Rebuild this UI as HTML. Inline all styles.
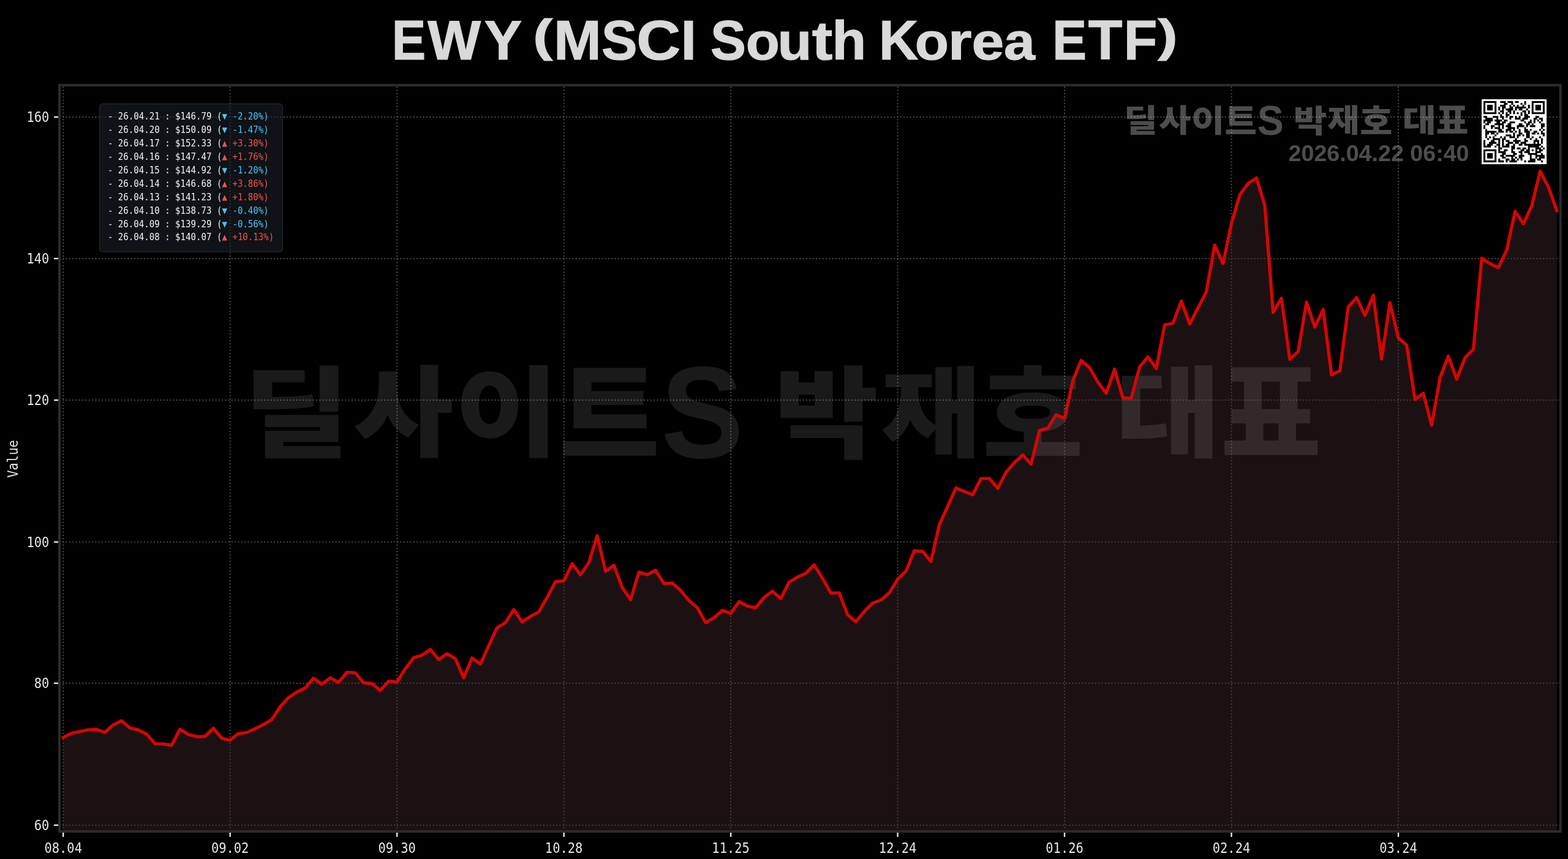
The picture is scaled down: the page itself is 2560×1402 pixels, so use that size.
<!DOCTYPE html>
<html lang="ko"><head><meta charset="utf-8"><title>EWY (MSCI South Korea ETF)</title>
<style>
html,body{margin:0;padding:0;background:#000}
body{width:2560px;height:1402px;overflow:hidden}
svg{display:block}
text{white-space:pre}
.mono{font-family:'DejaVu Sans Mono','Liberation Mono',monospace}
.sans{font-family:'Liberation Sans','Noto Sans CJK KR',sans-serif;font-weight:700}
.kr{font-family:'Liberation Sans','Noto Sans CJK KR',sans-serif;font-weight:900}
</style></head><body>
<svg width="2560" height="1402" viewBox="0 0 2560 1402" role="img" aria-label="EWY (MSCI South Korea ETF)">
<rect width="2560" height="1402" fill="#000"/>
<g stroke="#4c4c4c" stroke-opacity="1" stroke-width="2.0" stroke-dasharray="2 3.3" fill="none">
<line x1="103.2" y1="1357.0" x2="103.2" y2="139.0"/>
<line x1="375.67" y1="1357.0" x2="375.67" y2="139.0"/>
<line x1="648.15" y1="1357.0" x2="648.15" y2="139.0"/>
<line x1="920.62" y1="1357.0" x2="920.62" y2="139.0"/>
<line x1="1193.1" y1="1357.0" x2="1193.1" y2="139.0"/>
<line x1="1465.58" y1="1357.0" x2="1465.58" y2="139.0"/>
<line x1="1738.05" y1="1357.0" x2="1738.05" y2="139.0"/>
<line x1="2010.52" y1="1357.0" x2="2010.52" y2="139.0"/>
<line x1="2283.0" y1="1357.0" x2="2283.0" y2="139.0"/>
<line x1="97.05" y1="191" x2="2547.7" y2="191"/>
<line x1="97.05" y1="422" x2="2547.7" y2="422"/>
<line x1="97.05" y1="653.1" x2="2547.7" y2="653.1"/>
<line x1="97.05" y1="884.6" x2="2547.7" y2="884.6"/>
<line x1="97.05" y1="1115.1" x2="2547.7" y2="1115.1"/>
<line x1="97.05" y1="1346.75" x2="2547.7" y2="1346.75"/>
</g>
<polygon fill="#462b2d" fill-opacity="0.4" points="103.1,1357.0 103.1,1203.5 116.72,1196.9 130.35,1194 143.97,1191 157.59,1190.6 171.22,1195.3 184.84,1183.1 198.47,1176.3 212.09,1188.1 225.71,1191.3 239.34,1198.1 252.96,1213.8 266.59,1214.4 280.21,1216.3 293.83,1190.3 307.46,1198.8 321.08,1202.3 334.7,1201.9 348.33,1188.5 361.95,1205 375.58,1208 389.2,1197.3 402.82,1195.5 416.45,1189.4 430.07,1182.5 443.69,1174.4 457.32,1153.8 470.94,1138.8 484.57,1129.4 498.19,1123.1 511.81,1106.9 525.44,1116.9 539.06,1106.3 552.68,1113.8 566.31,1097.3 579.93,1098.1 593.56,1114.4 607.18,1115.6 620.8,1127.1 634.43,1111.9 648.05,1113 661.67,1091.6 675.3,1073.5 688.92,1069.4 702.55,1060 716.17,1076.3 729.79,1066.9 743.42,1075 757.04,1106.3 770.66,1073.8 784.29,1083.8 797.91,1053.8 811.54,1024.4 825.16,1016.3 838.78,994.8 852.41,1015 866.03,1006.3 879.65,998.8 893.28,975 906.9,949.4 920.53,947.8 934.15,920 947.77,938.1 961.4,918.1 975.02,874.4 988.64,932.5 1002.27,922.5 1015.89,958.8 1029.52,978.8 1043.14,933.8 1056.76,938.1 1070.39,930.6 1084.01,952.3 1097.63,951.6 1111.26,963.8 1124.88,980 1138.51,991.9 1152.13,1016.3 1165.75,1008.1 1179.38,996.3 1193,1001.3 1206.62,981.9 1220.25,989.4 1233.87,991.9 1247.49,975 1261.12,965 1274.74,976.9 1288.37,950 1301.99,941.9 1315.61,935.6 1329.24,921.9 1342.86,943.8 1356.49,968.1 1370.11,967.5 1383.73,1003.1 1397.36,1015 1410.98,998.1 1424.6,984.4 1438.23,979.4 1451.85,967.5 1465.47,945.6 1479.1,932.2 1492.72,898.8 1506.35,900 1519.97,916.3 1533.59,856.3 1547.22,826.3 1560.84,796.3 1574.47,802.2 1588.09,807.5 1601.71,781 1615.34,781 1628.96,796.9 1642.58,770.6 1656.21,755 1669.83,742.5 1683.45,757.5 1697.08,702.5 1710.7,698.8 1724.33,676.9 1737.95,683.1 1751.57,621.3 1765.2,588.1 1778.82,600 1792.45,623.8 1806.07,641.9 1819.69,602.5 1833.32,649.4 1846.94,650 1860.56,598.8 1874.19,582.5 1887.81,601.3 1901.43,530.3 1915.06,527.5 1928.68,491.3 1942.31,528.8 1955.93,502.5 1969.55,476.3 1983.18,400 1996.8,430 2010.43,365.3 2024.05,318.1 2037.67,299.4 2051.3,290.6 2064.92,335 2078.54,510 2092.17,486.9 2105.79,586.3 2119.41,573.8 2133.04,493.1 2146.66,533.8 2160.29,505 2173.91,611.9 2187.53,605 2201.16,501.3 2214.78,485.6 2228.41,515 2242.03,481.9 2255.65,586 2269.28,493.8 2282.9,551.3 2296.52,563 2310.15,651.9 2323.77,641.9 2337.39,693.8 2351.02,616.3 2364.64,581.3 2378.27,618.8 2391.89,583.8 2405.51,570.2 2419.14,421.3 2432.76,430.3 2446.39,436.8 2460.01,407.9 2473.63,344.9 2487.26,365.2 2500.88,335.7 2514.5,279.5 2528.13,305.4 2541.75,343.6 2541.75,1357.0"/>
<g class="kr" fill="#fff" fill-opacity="0.1" font-size="100">
<text transform="matrix(1.8828 0 0 1.6129 397.75 733.08)">딜</text><text transform="matrix(1.7810 0 0 1.6085 576.52 732.32)">사</text><text transform="matrix(1.8492 0 0 1.6000 742.57 732.00)">이</text><text transform="matrix(1.7824 0 0 1.8341 913.26 743.82)">트</text><text transform="matrix(2.0201 0 0 2.1428 1079.24 747.16)">S</text><text transform="matrix(1.8512 0 0 1.6277 1263.92 734.34)">박</text><text transform="matrix(1.7816 0 0 1.6086 1437.67 732.72)">재</text><text transform="matrix(1.7953 0 0 1.7444 1603.82 741.59)">호</text><text transform="matrix(1.8724 0 0 1.6086 1820.98 732.72)">대</text><text transform="matrix(1.7894 0 0 1.8400 1992.74 743.36)">표</text>
</g>
<polyline fill="none" stroke="#d50505" stroke-width="5.2" stroke-linejoin="round" stroke-linecap="square" points="103.1,1203.5 116.72,1196.9 130.35,1194 143.97,1191 157.59,1190.6 171.22,1195.3 184.84,1183.1 198.47,1176.3 212.09,1188.1 225.71,1191.3 239.34,1198.1 252.96,1213.8 266.59,1214.4 280.21,1216.3 293.83,1190.3 307.46,1198.8 321.08,1202.3 334.7,1201.9 348.33,1188.5 361.95,1205 375.58,1208 389.2,1197.3 402.82,1195.5 416.45,1189.4 430.07,1182.5 443.69,1174.4 457.32,1153.8 470.94,1138.8 484.57,1129.4 498.19,1123.1 511.81,1106.9 525.44,1116.9 539.06,1106.3 552.68,1113.8 566.31,1097.3 579.93,1098.1 593.56,1114.4 607.18,1115.6 620.8,1127.1 634.43,1111.9 648.05,1113 661.67,1091.6 675.3,1073.5 688.92,1069.4 702.55,1060 716.17,1076.3 729.79,1066.9 743.42,1075 757.04,1106.3 770.66,1073.8 784.29,1083.8 797.91,1053.8 811.54,1024.4 825.16,1016.3 838.78,994.8 852.41,1015 866.03,1006.3 879.65,998.8 893.28,975 906.9,949.4 920.53,947.8 934.15,920 947.77,938.1 961.4,918.1 975.02,874.4 988.64,932.5 1002.27,922.5 1015.89,958.8 1029.52,978.8 1043.14,933.8 1056.76,938.1 1070.39,930.6 1084.01,952.3 1097.63,951.6 1111.26,963.8 1124.88,980 1138.51,991.9 1152.13,1016.3 1165.75,1008.1 1179.38,996.3 1193,1001.3 1206.62,981.9 1220.25,989.4 1233.87,991.9 1247.49,975 1261.12,965 1274.74,976.9 1288.37,950 1301.99,941.9 1315.61,935.6 1329.24,921.9 1342.86,943.8 1356.49,968.1 1370.11,967.5 1383.73,1003.1 1397.36,1015 1410.98,998.1 1424.6,984.4 1438.23,979.4 1451.85,967.5 1465.47,945.6 1479.1,932.2 1492.72,898.8 1506.35,900 1519.97,916.3 1533.59,856.3 1547.22,826.3 1560.84,796.3 1574.47,802.2 1588.09,807.5 1601.71,781 1615.34,781 1628.96,796.9 1642.58,770.6 1656.21,755 1669.83,742.5 1683.45,757.5 1697.08,702.5 1710.7,698.8 1724.33,676.9 1737.95,683.1 1751.57,621.3 1765.2,588.1 1778.82,600 1792.45,623.8 1806.07,641.9 1819.69,602.5 1833.32,649.4 1846.94,650 1860.56,598.8 1874.19,582.5 1887.81,601.3 1901.43,530.3 1915.06,527.5 1928.68,491.3 1942.31,528.8 1955.93,502.5 1969.55,476.3 1983.18,400 1996.8,430 2010.43,365.3 2024.05,318.1 2037.67,299.4 2051.3,290.6 2064.92,335 2078.54,510 2092.17,486.9 2105.79,586.3 2119.41,573.8 2133.04,493.1 2146.66,533.8 2160.29,505 2173.91,611.9 2187.53,605 2201.16,501.3 2214.78,485.6 2228.41,515 2242.03,481.9 2255.65,586 2269.28,493.8 2282.9,551.3 2296.52,563 2310.15,651.9 2323.77,641.9 2337.39,693.8 2351.02,616.3 2364.64,581.3 2378.27,618.8 2391.89,583.8 2405.51,570.2 2419.14,421.3 2432.76,430.3 2446.39,436.8 2460.01,407.9 2473.63,344.9 2487.26,365.2 2500.88,335.7 2514.5,279.5 2528.13,305.4 2541.75,343.6"/>
<g stroke="#e6e6e6" stroke-width="2.4">
<line x1="103.2" y1="1357.0" x2="103.2" y2="1366"/>
<line x1="375.67" y1="1357.0" x2="375.67" y2="1366"/>
<line x1="648.15" y1="1357.0" x2="648.15" y2="1366"/>
<line x1="920.62" y1="1357.0" x2="920.62" y2="1366"/>
<line x1="1193.1" y1="1357.0" x2="1193.1" y2="1366"/>
<line x1="1465.58" y1="1357.0" x2="1465.58" y2="1366"/>
<line x1="1738.05" y1="1357.0" x2="1738.05" y2="1366"/>
<line x1="2010.52" y1="1357.0" x2="2010.52" y2="1366"/>
<line x1="2283.0" y1="1357.0" x2="2283.0" y2="1366"/>
<line x1="88.05" y1="191" x2="97.05" y2="191"/>
<line x1="88.05" y1="422" x2="97.05" y2="422"/>
<line x1="88.05" y1="653.1" x2="97.05" y2="653.1"/>
<line x1="88.05" y1="884.6" x2="97.05" y2="884.6"/>
<line x1="88.05" y1="1115.1" x2="97.05" y2="1115.1"/>
<line x1="88.05" y1="1346.75" x2="97.05" y2="1346.75"/>
</g>
<rect x="97.05" y="139.0" width="2450.65" height="1218" fill="none" stroke="#2c2c2c" stroke-width="4.0"/>
<g class="mono" fill="#e6e6e6" font-size="23.4">
<text x="72.45" y="1392" textLength="61.5" lengthAdjust="spacingAndGlyphs">08.04</text>
<text x="344.92" y="1392" textLength="61.5" lengthAdjust="spacingAndGlyphs">09.02</text>
<text x="617.4" y="1392" textLength="61.5" lengthAdjust="spacingAndGlyphs">09.30</text>
<text x="889.87" y="1392" textLength="61.5" lengthAdjust="spacingAndGlyphs">10.28</text>
<text x="1162.35" y="1392" textLength="61.5" lengthAdjust="spacingAndGlyphs">11.25</text>
<text x="1434.83" y="1392" textLength="61.5" lengthAdjust="spacingAndGlyphs">12.24</text>
<text x="1707.3" y="1392" textLength="61.5" lengthAdjust="spacingAndGlyphs">01.26</text>
<text x="1979.77" y="1392" textLength="61.5" lengthAdjust="spacingAndGlyphs">02.24</text>
<text x="2252.25" y="1392" textLength="61.5" lengthAdjust="spacingAndGlyphs">03.24</text>
<text x="43.4" y="199" textLength="36.9" lengthAdjust="spacingAndGlyphs">160</text>
<text x="43.4" y="430" textLength="36.9" lengthAdjust="spacingAndGlyphs">140</text>
<text x="43.4" y="661.1" textLength="36.9" lengthAdjust="spacingAndGlyphs">120</text>
<text x="43.4" y="892.6" textLength="36.9" lengthAdjust="spacingAndGlyphs">100</text>
<text x="55.7" y="1123.1" textLength="24.6" lengthAdjust="spacingAndGlyphs">80</text>
<text x="55.7" y="1354.75" textLength="24.6" lengthAdjust="spacingAndGlyphs">60</text>
<text transform="translate(29 779.75) rotate(-90)" textLength="61.5" lengthAdjust="spacingAndGlyphs">Value</text>
</g>
<g fill="#fff" fill-opacity="0.3">
<g class="kr" font-size="100"><text transform="matrix(0.6020 0 0 0.5093 1834.78 215.21)">딜</text><text transform="matrix(0.5694 0 0 0.5080 1891.95 214.97)">사</text><text transform="matrix(0.5913 0 0 0.5053 1945.04 214.87)">이</text><text transform="matrix(0.5699 0 0 0.5792 1999.61 218.60)">트</text><text transform="matrix(0.6459 0 0 0.6767 2052.68 219.66)">S</text><text transform="matrix(0.5919 0 0 0.5140 2111.73 215.61)">박</text><text transform="matrix(0.5696 0 0 0.5080 2167.29 215.10)">재</text><text transform="matrix(0.5740 0 0 0.5509 2220.41 217.90)">호</text><text transform="matrix(0.5987 0 0 0.5080 2289.85 215.10)">대</text><text transform="matrix(0.5721 0 0 0.5811 2344.77 218.46)">표</text></g>
<text class="sans" font-size="36.3" x="2103.55" y="262.6" textLength="294.97" lengthAdjust="spacingAndGlyphs">2026.04.22 06:40</text>
</g>
<rect x="2419.0" y="162.0" width="106.0" height="106.0" fill="#fff"/>
<path fill="#000" d="M2422.00 165.00h21.19v3.03h-21.19zM2449.25 165.00h9.08v3.03h-9.08zM2461.35 165.00h9.08v3.03h-9.08zM2473.46 165.00h6.05v3.03h-6.05zM2488.60 165.00h3.03v3.03h-3.03zM2500.71 165.00h21.19v3.03h-21.19zM2422.00 168.03h3.03v3.03h-3.03zM2440.16 168.03h3.03v3.03h-3.03zM2455.30 168.03h6.05v3.03h-6.05zM2467.41 168.03h3.03v3.03h-3.03zM2482.55 168.03h3.03v3.03h-3.03zM2488.60 168.03h3.03v3.03h-3.03zM2500.71 168.03h3.03v3.03h-3.03zM2518.87 168.03h3.03v3.03h-3.03zM2422.00 171.05h3.03v3.03h-3.03zM2428.05 171.05h9.08v3.03h-9.08zM2440.16 171.05h3.03v3.03h-3.03zM2449.25 171.05h9.08v3.03h-9.08zM2464.38 171.05h3.03v3.03h-3.03zM2470.44 171.05h3.03v3.03h-3.03zM2476.49 171.05h3.03v3.03h-3.03zM2485.57 171.05h3.03v3.03h-3.03zM2494.65 171.05h3.03v3.03h-3.03zM2500.71 171.05h3.03v3.03h-3.03zM2506.76 171.05h9.08v3.03h-9.08zM2518.87 171.05h3.03v3.03h-3.03zM2422.00 174.08h3.03v3.03h-3.03zM2428.05 174.08h9.08v3.03h-9.08zM2440.16 174.08h3.03v3.03h-3.03zM2446.22 174.08h3.03v3.03h-3.03zM2452.27 174.08h6.05v3.03h-6.05zM2464.38 174.08h6.05v3.03h-6.05zM2473.46 174.08h18.16v3.03h-18.16zM2494.65 174.08h3.03v3.03h-3.03zM2500.71 174.08h3.03v3.03h-3.03zM2506.76 174.08h9.08v3.03h-9.08zM2518.87 174.08h3.03v3.03h-3.03zM2422.00 177.11h3.03v3.03h-3.03zM2428.05 177.11h9.08v3.03h-9.08zM2440.16 177.11h3.03v3.03h-3.03zM2446.22 177.11h3.03v3.03h-3.03zM2452.27 177.11h3.03v3.03h-3.03zM2458.33 177.11h12.11v3.03h-12.11zM2473.46 177.11h3.03v3.03h-3.03zM2479.52 177.11h6.05v3.03h-6.05zM2491.63 177.11h3.03v3.03h-3.03zM2500.71 177.11h3.03v3.03h-3.03zM2506.76 177.11h9.08v3.03h-9.08zM2518.87 177.11h3.03v3.03h-3.03zM2422.00 180.14h3.03v3.03h-3.03zM2440.16 180.14h3.03v3.03h-3.03zM2449.25 180.14h6.05v3.03h-6.05zM2461.35 180.14h6.05v3.03h-6.05zM2470.44 180.14h3.03v3.03h-3.03zM2485.57 180.14h6.05v3.03h-6.05zM2494.65 180.14h3.03v3.03h-3.03zM2500.71 180.14h3.03v3.03h-3.03zM2518.87 180.14h3.03v3.03h-3.03zM2422.00 183.16h21.19v3.03h-21.19zM2446.22 183.16h3.03v3.03h-3.03zM2452.27 183.16h3.03v3.03h-3.03zM2458.33 183.16h3.03v3.03h-3.03zM2464.38 183.16h3.03v3.03h-3.03zM2470.44 183.16h3.03v3.03h-3.03zM2476.49 183.16h3.03v3.03h-3.03zM2482.55 183.16h3.03v3.03h-3.03zM2488.60 183.16h3.03v3.03h-3.03zM2494.65 183.16h3.03v3.03h-3.03zM2500.71 183.16h21.19v3.03h-21.19zM2449.25 186.19h3.03v3.03h-3.03zM2458.33 186.19h6.05v3.03h-6.05zM2482.55 186.19h3.03v3.03h-3.03zM2488.60 186.19h6.05v3.03h-6.05zM2422.00 189.22h6.05v3.03h-6.05zM2437.14 189.22h9.08v3.03h-9.08zM2449.25 189.22h6.05v3.03h-6.05zM2458.33 189.22h3.03v3.03h-3.03zM2464.38 189.22h6.05v3.03h-6.05zM2473.46 189.22h3.03v3.03h-3.03zM2479.52 189.22h3.03v3.03h-3.03zM2488.60 189.22h9.08v3.03h-9.08zM2506.76 189.22h6.05v3.03h-6.05zM2425.03 192.25h12.11v3.03h-12.11zM2443.19 192.25h3.03v3.03h-3.03zM2452.27 192.25h3.03v3.03h-3.03zM2464.38 192.25h3.03v3.03h-3.03zM2473.46 192.25h9.08v3.03h-9.08zM2485.57 192.25h9.08v3.03h-9.08zM2503.74 192.25h6.05v3.03h-6.05zM2512.82 192.25h6.05v3.03h-6.05zM2422.00 195.27h15.14v3.03h-15.14zM2440.16 195.27h12.11v3.03h-12.11zM2455.30 195.27h6.05v3.03h-6.05zM2482.55 195.27h6.05v3.03h-6.05zM2497.68 195.27h3.03v3.03h-3.03zM2503.74 195.27h3.03v3.03h-3.03zM2509.79 195.27h3.03v3.03h-3.03zM2515.85 195.27h3.03v3.03h-3.03zM2422.00 198.30h3.03v3.03h-3.03zM2428.05 198.30h6.05v3.03h-6.05zM2443.19 198.30h6.05v3.03h-6.05zM2452.27 198.30h6.05v3.03h-6.05zM2464.38 198.30h9.08v3.03h-9.08zM2488.60 198.30h3.03v3.03h-3.03zM2494.65 198.30h6.05v3.03h-6.05zM2503.74 198.30h3.03v3.03h-3.03zM2512.82 198.30h3.03v3.03h-3.03zM2425.03 201.33h6.05v3.03h-6.05zM2440.16 201.33h15.14v3.03h-15.14zM2461.35 201.33h6.05v3.03h-6.05zM2479.52 201.33h6.05v3.03h-6.05zM2491.63 201.33h6.05v3.03h-6.05zM2500.71 201.33h3.03v3.03h-3.03zM2515.85 201.33h6.05v3.03h-6.05zM2422.00 204.35h3.03v3.03h-3.03zM2434.11 204.35h6.05v3.03h-6.05zM2446.22 204.35h3.03v3.03h-3.03zM2452.27 204.35h3.03v3.03h-3.03zM2458.33 204.35h9.08v3.03h-9.08zM2476.49 204.35h12.11v3.03h-12.11zM2491.63 204.35h3.03v3.03h-3.03zM2497.68 204.35h9.08v3.03h-9.08zM2515.85 204.35h6.05v3.03h-6.05zM2422.00 207.38h3.03v3.03h-3.03zM2434.11 207.38h3.03v3.03h-3.03zM2440.16 207.38h9.08v3.03h-9.08zM2452.27 207.38h3.03v3.03h-3.03zM2461.35 207.38h12.11v3.03h-12.11zM2476.49 207.38h3.03v3.03h-3.03zM2488.60 207.38h3.03v3.03h-3.03zM2515.85 207.38h3.03v3.03h-3.03zM2425.03 210.41h3.03v3.03h-3.03zM2446.22 210.41h6.05v3.03h-6.05zM2458.33 210.41h9.08v3.03h-9.08zM2470.44 210.41h3.03v3.03h-3.03zM2479.52 210.41h3.03v3.03h-3.03zM2488.60 210.41h6.05v3.03h-6.05zM2497.68 210.41h3.03v3.03h-3.03zM2512.82 210.41h3.03v3.03h-3.03zM2518.87 210.41h3.03v3.03h-3.03zM2425.03 213.44h18.16v3.03h-18.16zM2446.22 213.44h9.08v3.03h-9.08zM2458.33 213.44h3.03v3.03h-3.03zM2464.38 213.44h6.05v3.03h-6.05zM2473.46 213.44h3.03v3.03h-3.03zM2479.52 213.44h3.03v3.03h-3.03zM2488.60 213.44h9.08v3.03h-9.08zM2503.74 213.44h6.05v3.03h-6.05zM2515.85 213.44h3.03v3.03h-3.03zM2425.03 216.46h6.05v3.03h-6.05zM2434.11 216.46h6.05v3.03h-6.05zM2443.19 216.46h3.03v3.03h-3.03zM2470.44 216.46h3.03v3.03h-3.03zM2479.52 216.46h6.05v3.03h-6.05zM2491.63 216.46h6.05v3.03h-6.05zM2500.71 216.46h6.05v3.03h-6.05zM2509.79 216.46h3.03v3.03h-3.03zM2515.85 216.46h6.05v3.03h-6.05zM2425.03 219.49h3.03v3.03h-3.03zM2440.16 219.49h3.03v3.03h-3.03zM2458.33 219.49h9.08v3.03h-9.08zM2470.44 219.49h3.03v3.03h-3.03zM2476.49 219.49h6.05v3.03h-6.05zM2485.57 219.49h3.03v3.03h-3.03zM2491.63 219.49h6.05v3.03h-6.05zM2518.87 219.49h3.03v3.03h-3.03zM2425.03 222.52h3.03v3.03h-3.03zM2431.08 222.52h3.03v3.03h-3.03zM2437.14 222.52h3.03v3.03h-3.03zM2449.25 222.52h3.03v3.03h-3.03zM2455.30 222.52h3.03v3.03h-3.03zM2464.38 222.52h9.08v3.03h-9.08zM2476.49 222.52h3.03v3.03h-3.03zM2491.63 222.52h6.05v3.03h-6.05zM2500.71 222.52h3.03v3.03h-3.03zM2512.82 222.52h3.03v3.03h-3.03zM2428.05 225.55h3.03v3.03h-3.03zM2437.14 225.55h12.11v3.03h-12.11zM2452.27 225.55h6.05v3.03h-6.05zM2473.46 225.55h3.03v3.03h-3.03zM2488.60 225.55h3.03v3.03h-3.03zM2497.68 225.55h3.03v3.03h-3.03zM2506.76 225.55h3.03v3.03h-3.03zM2515.85 225.55h3.03v3.03h-3.03zM2422.00 228.57h3.03v3.03h-3.03zM2434.11 228.57h6.05v3.03h-6.05zM2446.22 228.57h3.03v3.03h-3.03zM2452.27 228.57h3.03v3.03h-3.03zM2458.33 228.57h6.05v3.03h-6.05zM2470.44 228.57h12.11v3.03h-12.11zM2488.60 228.57h6.05v3.03h-6.05zM2503.74 228.57h9.08v3.03h-9.08zM2515.85 228.57h3.03v3.03h-3.03zM2422.00 231.60h3.03v3.03h-3.03zM2431.08 231.60h12.11v3.03h-12.11zM2446.22 231.60h3.03v3.03h-3.03zM2452.27 231.60h3.03v3.03h-3.03zM2461.35 231.60h9.08v3.03h-9.08zM2473.46 231.60h6.05v3.03h-6.05zM2482.55 231.60h9.08v3.03h-9.08zM2503.74 231.60h3.03v3.03h-3.03zM2509.79 231.60h3.03v3.03h-3.03zM2515.85 231.60h3.03v3.03h-3.03zM2422.00 234.63h3.03v3.03h-3.03zM2428.05 234.63h9.08v3.03h-9.08zM2443.19 234.63h6.05v3.03h-6.05zM2452.27 234.63h3.03v3.03h-3.03zM2458.33 234.63h6.05v3.03h-6.05zM2470.44 234.63h3.03v3.03h-3.03zM2479.52 234.63h6.05v3.03h-6.05zM2488.60 234.63h27.25v3.03h-27.25zM2422.00 237.65h12.11v3.03h-12.11zM2440.16 237.65h3.03v3.03h-3.03zM2446.22 237.65h3.03v3.03h-3.03zM2452.27 237.65h12.11v3.03h-12.11zM2467.41 237.65h6.05v3.03h-6.05zM2494.65 237.65h18.16v3.03h-18.16zM2515.85 237.65h3.03v3.03h-3.03zM2446.22 240.68h6.05v3.03h-6.05zM2467.41 240.68h6.05v3.03h-6.05zM2476.49 240.68h6.05v3.03h-6.05zM2485.57 240.68h6.05v3.03h-6.05zM2494.65 240.68h3.03v3.03h-3.03zM2506.76 240.68h9.08v3.03h-9.08zM2518.87 240.68h3.03v3.03h-3.03zM2422.00 243.71h21.19v3.03h-21.19zM2446.22 243.71h3.03v3.03h-3.03zM2455.30 243.71h6.05v3.03h-6.05zM2467.41 243.71h3.03v3.03h-3.03zM2482.55 243.71h6.05v3.03h-6.05zM2491.63 243.71h6.05v3.03h-6.05zM2500.71 243.71h3.03v3.03h-3.03zM2506.76 243.71h3.03v3.03h-3.03zM2512.82 243.71h6.05v3.03h-6.05zM2422.00 246.74h3.03v3.03h-3.03zM2440.16 246.74h3.03v3.03h-3.03zM2446.22 246.74h12.11v3.03h-12.11zM2467.41 246.74h6.05v3.03h-6.05zM2479.52 246.74h6.05v3.03h-6.05zM2488.60 246.74h9.08v3.03h-9.08zM2506.76 246.74h9.08v3.03h-9.08zM2422.00 249.76h3.03v3.03h-3.03zM2428.05 249.76h9.08v3.03h-9.08zM2440.16 249.76h3.03v3.03h-3.03zM2452.27 249.76h6.05v3.03h-6.05zM2470.44 249.76h6.05v3.03h-6.05zM2482.55 249.76h3.03v3.03h-3.03zM2494.65 249.76h15.14v3.03h-15.14zM2515.85 249.76h3.03v3.03h-3.03zM2422.00 252.79h3.03v3.03h-3.03zM2428.05 252.79h9.08v3.03h-9.08zM2440.16 252.79h3.03v3.03h-3.03zM2449.25 252.79h6.05v3.03h-6.05zM2458.33 252.79h15.14v3.03h-15.14zM2479.52 252.79h9.08v3.03h-9.08zM2497.68 252.79h3.03v3.03h-3.03zM2506.76 252.79h15.14v3.03h-15.14zM2422.00 255.82h3.03v3.03h-3.03zM2428.05 255.82h9.08v3.03h-9.08zM2440.16 255.82h3.03v3.03h-3.03zM2452.27 255.82h6.05v3.03h-6.05zM2467.41 255.82h3.03v3.03h-3.03zM2473.46 255.82h3.03v3.03h-3.03zM2479.52 255.82h6.05v3.03h-6.05zM2497.68 255.82h3.03v3.03h-3.03zM2506.76 255.82h3.03v3.03h-3.03zM2512.82 255.82h9.08v3.03h-9.08zM2422.00 258.85h3.03v3.03h-3.03zM2440.16 258.85h3.03v3.03h-3.03zM2446.22 258.85h3.03v3.03h-3.03zM2458.33 258.85h6.05v3.03h-6.05zM2467.41 258.85h6.05v3.03h-6.05zM2476.49 258.85h3.03v3.03h-3.03zM2482.55 258.85h3.03v3.03h-3.03zM2497.68 258.85h9.08v3.03h-9.08zM2509.79 258.85h6.05v3.03h-6.05zM2422.00 261.87h21.19v3.03h-21.19zM2446.22 261.87h9.08v3.03h-9.08zM2458.33 261.87h3.03v3.03h-3.03zM2464.38 261.87h12.11v3.03h-12.11zM2488.60 261.87h3.03v3.03h-3.03zM2494.65 261.87h12.11v3.03h-12.11zM2515.85 261.87h3.03v3.03h-3.03z"/>
<rect x="162.7" y="169.5" width="298.7" height="241.5" rx="4.5" ry="4.5" fill="#1c2028" fill-opacity="0.55" stroke="#2a2e36" stroke-width="1"/>
<g class="mono" font-size="15.7" fill="#f2f2f2">
<text x="175.9" y="195.4" textLength="262.88" lengthAdjust="spacingAndGlyphs">- 26.04.21 : $146.79 (<tspan fill="#4fc3f7">▼ -2.20%)</tspan></text>
<text x="175.9" y="217.29" textLength="262.88" lengthAdjust="spacingAndGlyphs">- 26.04.20 : $150.09 (<tspan fill="#4fc3f7">▼ -1.47%)</tspan></text>
<text x="175.9" y="239.18" textLength="262.88" lengthAdjust="spacingAndGlyphs">- 26.04.17 : $152.33 (<tspan fill="#ef5350">▲ +3.30%)</tspan></text>
<text x="175.9" y="261.07" textLength="262.88" lengthAdjust="spacingAndGlyphs">- 26.04.16 : $147.47 (<tspan fill="#ef5350">▲ +1.76%)</tspan></text>
<text x="175.9" y="282.96" textLength="262.88" lengthAdjust="spacingAndGlyphs">- 26.04.15 : $144.92 (<tspan fill="#4fc3f7">▼ -1.20%)</tspan></text>
<text x="175.9" y="304.85" textLength="262.88" lengthAdjust="spacingAndGlyphs">- 26.04.14 : $146.68 (<tspan fill="#ef5350">▲ +3.86%)</tspan></text>
<text x="175.9" y="326.74" textLength="262.88" lengthAdjust="spacingAndGlyphs">- 26.04.13 : $141.23 (<tspan fill="#ef5350">▲ +1.80%)</tspan></text>
<text x="175.9" y="348.63" textLength="262.88" lengthAdjust="spacingAndGlyphs">- 26.04.10 : $138.73 (<tspan fill="#4fc3f7">▼ -0.40%)</tspan></text>
<text x="175.9" y="370.52" textLength="262.88" lengthAdjust="spacingAndGlyphs">- 26.04.09 : $139.29 (<tspan fill="#4fc3f7">▼ -0.56%)</tspan></text>
<text x="175.9" y="392.41" textLength="271.36" lengthAdjust="spacingAndGlyphs">- 26.04.08 : $140.07 (<tspan fill="#ef5350">▲ +10.13%)</tspan></text>
</g>
<text class="sans" font-size="90.76" fill="#d9d9d9" stroke="#d9d9d9" stroke-width="1.2" stroke-linejoin="miter"><tspan x="639.80" y="97.00" font-size="90.76" textLength="55.38" lengthAdjust="spacingAndGlyphs">E</tspan><tspan x="698.37" y="97.00" font-size="90.76" textLength="86.66" lengthAdjust="spacingAndGlyphs">W</tspan><tspan x="790.73" y="97.00" font-size="90.76" textLength="59.69" lengthAdjust="spacingAndGlyphs">Y</tspan> <tspan x="870.28" y="84.06" font-size="73.67" textLength="32.11" lengthAdjust="spacingAndGlyphs">(</tspan><tspan x="904.00" y="97.00" font-size="90.76" textLength="77.75" lengthAdjust="spacingAndGlyphs">M</tspan><tspan x="982.07" y="97.00" font-size="90.76" textLength="58.50" lengthAdjust="spacingAndGlyphs">S</tspan><tspan x="1039.32" y="97.00" font-size="90.76" textLength="71.89" lengthAdjust="spacingAndGlyphs">C</tspan><tspan x="1111.79" y="97.00" font-size="90.76" textLength="25.16" lengthAdjust="spacingAndGlyphs">I</tspan> <tspan x="1159.89" y="97.00" font-size="90.76" textLength="57.94" lengthAdjust="spacingAndGlyphs">S</tspan><tspan x="1217.79" y="97.00" font-size="84.86" textLength="55.07" lengthAdjust="spacingAndGlyphs">o</tspan><tspan x="1269.59" y="97.00" font-size="84.86" textLength="55.84" lengthAdjust="spacingAndGlyphs">u</tspan><tspan x="1325.84" y="97.00" font-size="89.58" textLength="33.57" lengthAdjust="spacingAndGlyphs">t</tspan><tspan x="1358.41" y="97.00" font-size="89.58" textLength="55.74" lengthAdjust="spacingAndGlyphs">h</tspan> <tspan x="1435.10" y="97.00" font-size="90.76" textLength="64.16" lengthAdjust="spacingAndGlyphs">K</tspan><tspan x="1493.69" y="97.00" font-size="84.86" textLength="55.18" lengthAdjust="spacingAndGlyphs">o</tspan><tspan x="1547.88" y="97.00" font-size="84.86" textLength="38.73" lengthAdjust="spacingAndGlyphs">r</tspan><tspan x="1586.51" y="97.00" font-size="84.86" textLength="52.68" lengthAdjust="spacingAndGlyphs">e</tspan><tspan x="1639.11" y="97.00" font-size="84.86" textLength="50.82" lengthAdjust="spacingAndGlyphs">a</tspan> <tspan x="1718.15" y="97.00" font-size="90.76" textLength="55.86" lengthAdjust="spacingAndGlyphs">E</tspan><tspan x="1776.89" y="97.00" font-size="90.76" textLength="55.71" lengthAdjust="spacingAndGlyphs">T</tspan><tspan x="1834.66" y="97.00" font-size="90.76" textLength="54.65" lengthAdjust="spacingAndGlyphs">F</tspan><tspan x="1890.36" y="84.06" font-size="73.67" textLength="32.35" lengthAdjust="spacingAndGlyphs">)</tspan></text>
</svg>
</body></html>
